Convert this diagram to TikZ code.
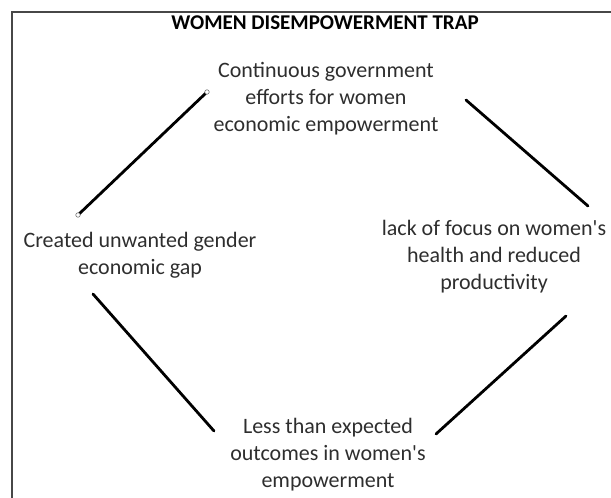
\documentclass[tikz,border=0pt]{standalone}
\usepackage{fontspec}
\setmainfont{Carlito}
\begin{document}
\begin{tikzpicture}[x=1pt,y=-1pt,
  every node/.style={inner sep=0pt, outer sep=0pt, text=black!82},
  stage/.style={align=center, font=\fontsize{22}{27}\selectfont},
  heading/.style={font=\fontsize{21}{25}\selectfont\bfseries, text=black},
  link/.style={line width=2.8pt, line cap=round},
  handle/.style={circle, draw=black!55, fill=white, line width=0.6pt, minimum size=4.5pt}]
  \useasboundingbox (0,0) rectangle (611,498);
  % outer frame (left and top edges)
  \draw[line width=2.2pt, draw=black!72] (12,498) -- (12,12) -- (611,12);

  \node[heading, anchor=base] (title) at (325,29) {WOMEN DISEMPOWERMENT TRAP};

  \node[stage] (efforts) at (326,99) {Continuous government\\efforts for women\\economic empowerment};
  \node[stage] (health) at (494,257) {lack of focus on women\textquotesingle s\\health and reduced\\productivity};
  \node[stage] (outcomes) at (328,455) {Less than expected\\outcomes in women\textquotesingle s\\empowerment};
  \node[stage] (gap) at (140,255) {Created unwanted gender\\economic gap};

  % free ends of the cycle links
  \coordinate (e1) at (466,100);  \coordinate (h1) at (588,206);
  \coordinate (h2) at (566,316);  \coordinate (o1) at (436,434);
  \coordinate (o2) at (214,431);  \coordinate (g1) at (93,294);
  \coordinate (g2) at (78,215);   \coordinate (e2) at (207,92);

  \draw[link] (e1) -- (h1);
  \draw[link] (h2) -- (o1);
  \draw[link] (o2) -- (g1);
  \draw[link] (g2) -- (e2);
  \node[handle] at (g2) {};
  \node[handle] at (e2) {};
\end{tikzpicture}
\end{document}
